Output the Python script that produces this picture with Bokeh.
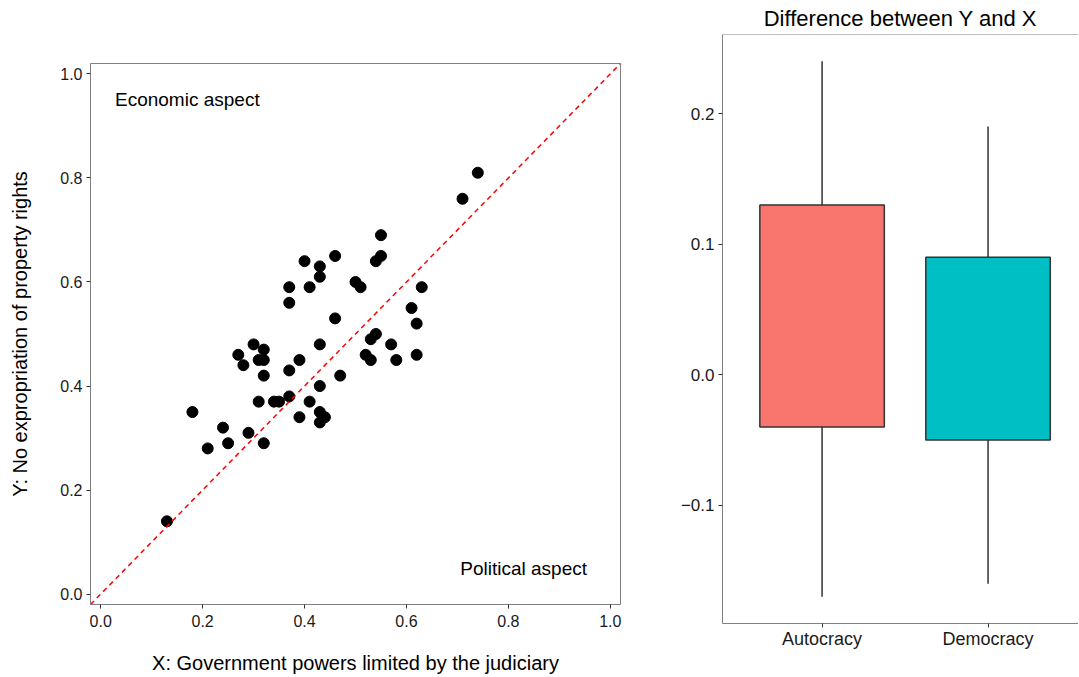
from bokeh.plotting import figure
from bokeh.layouts import row, column
from bokeh.models import Range1d, FixedTicker, PrintfTickFormatter, Slope, Span, ColumnDataSource
from bokeh.core.properties import value
from bokeh.embed import file_html
from bokeh.resources import INLINE

# ---- scatter data (X: judiciary limits, Y: no expropriation) ----
x_judiciary = [0.74, 0.71, 0.55, 0.55, 0.54, 0.46, 0.40, 0.43, 0.43, 0.41,
               0.37, 0.37, 0.50, 0.51, 0.63, 0.61, 0.62, 0.62, 0.46, 0.43,
               0.54, 0.53, 0.57, 0.52, 0.53, 0.58, 0.47, 0.43, 0.39, 0.37,
               0.37, 0.41, 0.43, 0.44, 0.43, 0.39, 0.30, 0.32, 0.31, 0.32,
               0.27, 0.28, 0.32, 0.31, 0.34, 0.35, 0.18, 0.24, 0.25, 0.21,
               0.29, 0.32, 0.13]
y_property = [0.81, 0.76, 0.69, 0.65, 0.64, 0.65, 0.64, 0.63, 0.61, 0.59,
              0.59, 0.56, 0.60, 0.59, 0.59, 0.55, 0.52, 0.46, 0.53, 0.48,
              0.50, 0.49, 0.48, 0.46, 0.45, 0.45, 0.42, 0.40, 0.45, 0.43,
              0.38, 0.37, 0.35, 0.34, 0.33, 0.34, 0.48, 0.47, 0.45, 0.45,
              0.46, 0.44, 0.42, 0.37, 0.37, 0.37, 0.35, 0.32, 0.29, 0.28,
              0.31, 0.29, 0.14]
scatter_ticks = [0.0, 0.2, 0.4, 0.6, 0.8, 1.0]
note_text = ["Economic aspect", "Political aspect"]
note_x = [0.17, 0.83]
note_y = [0.95, 0.05]

# ---- boxplot data (difference Y - X) ----
regimes = ["Autocracy", "Democracy"]
whisker_low = [-0.17, -0.16]
q1 = [-0.04, -0.05]
median = [0.05, 0.02]
q3 = [0.13, 0.09]
whisker_high = [0.24, 0.19]
box_colors = ["#F8766D", "#00BFC4"]
box_ticks = [-0.1, 0.0, 0.1, 0.2]
box_tick_labels = ["\u22120.1", "0.0", "0.1", "0.2"]

FONT = "Liberation Sans"
BORDER = "#808080"
TICK = "#333333"
LABEL = "#1a1a1a"

# ================= scatter =================
p1 = figure(width=650, height=676, output_backend="svg", toolbar_location=None,
            x_range=Range1d(-0.02, 1.02), y_range=Range1d(-0.02, 1.02),
            min_border_left=90, min_border_right=30, min_border_top=63, min_border_bottom=72)
p1.background_fill_color = "white"
p1.border_fill_color = "white"
p1.outline_line_color = BORDER
p1.outline_line_width = 1
p1.xgrid.visible = False
p1.ygrid.visible = False

for ax in (p1.xaxis[0], p1.yaxis[0]):
    ax.ticker = FixedTicker(ticks=scatter_ticks)
    ax.formatter = PrintfTickFormatter(format="%.1f")
    ax.axis_line_color = None
    ax.major_tick_line_color = TICK
    ax.major_tick_out = 4
    ax.major_tick_in = 0
    ax.minor_tick_line_color = None
    ax.major_label_text_font = FONT
    ax.major_label_text_font_size = "16px"
    ax.major_label_text_color = LABEL
    ax.axis_label_text_font = FONT
    ax.axis_label_text_font_size = "20px"
    ax.axis_label_text_font_style = "normal"
    ax.axis_label_text_color = "black"

p1.xaxis.axis_label = "X: Government powers limited by the judiciary"
p1.yaxis.axis_label = "Y: No expropriation of property rights"
p1.xaxis.major_label_standoff = 6
p1.yaxis.major_label_standoff = 4
p1.xaxis.axis_label_standoff = 22
p1.yaxis.axis_label_standoff = 26

p1.add_layout(Slope(gradient=1, y_intercept=0, line_color="red", line_width=1.5,
                    line_dash="5 4"))

src = ColumnDataSource(dict(x=x_judiciary, y=y_property))
p1.scatter("x", "y", source=src, size=11, color="black")

p1.text(x=note_x, y=note_y, text=note_text, text_font=value(FONT),
        text_font_size="19px", text_align="center", text_baseline="middle",
        text_color="black")

# ================= boxplot =================
pos = [i + 1 for i in range(len(regimes))]
p2 = figure(width=428, height=676, output_backend="svg", toolbar_location=None,
            x_range=Range1d(0.4, 2.545), y_range=Range1d(-0.1905, 0.2605),
            min_border_left=72, min_border_right=0, min_border_top=34, min_border_bottom=53,
            title="Difference between Y and X")
p2.background_fill_color = "white"
p2.border_fill_color = "white"
p2.outline_line_color = None
p2.xgrid.visible = False
p2.ygrid.visible = False
p2.title.text_font = FONT
p2.title.text_font_size = "22px"
p2.title.text_font_style = "normal"
p2.title.align = "center"
p2.title.text_color = "black"
p2.title.standoff = 7

p2.yaxis.ticker = FixedTicker(ticks=box_ticks)
p2.yaxis.major_label_overrides = {t: l for t, l in zip(box_ticks, box_tick_labels)}
p2.xaxis.ticker = FixedTicker(ticks=pos)
p2.xaxis.major_label_overrides = {t: l for t, l in zip(pos, regimes)}
for ax in (p2.xaxis[0], p2.yaxis[0]):
    ax.axis_line_color = BORDER
    ax.axis_line_width = 1
    ax.major_tick_line_color = TICK
    ax.major_tick_out = 4
    ax.major_tick_in = 0
    ax.minor_tick_line_color = None
    ax.major_label_text_font = FONT
    ax.major_label_text_color = LABEL
p2.yaxis.major_label_text_font_size = "17px"
p2.xaxis.major_label_text_font_size = "18px"
p2.yaxis.major_label_standoff = 4
p2.xaxis.major_label_standoff = 1
p2.add_layout(Span(location=0.2605, dimension="width", line_color=BORDER, line_width=1))

bsrc = ColumnDataSource(dict(pos=pos, lo=whisker_low, q1=q1, med=median, q3=q3,
                             hi=whisker_high, color=box_colors))
p2.segment(x0="pos", y0="q3", x1="pos", y1="hi", source=bsrc, line_color=TICK, line_width=1.5)
p2.segment(x0="pos", y0="lo", x1="pos", y1="q1", source=bsrc, line_color=TICK, line_width=1.5)
p2.vbar(x="pos", width=0.75, bottom="q1", top="q3", source=bsrc, fill_color="color",
        line_color=TICK, line_width=1.5)
p2.rect(x="pos", y="med", width=0.75, height=0, source=bsrc, line_color=TICK, line_width=3)

layout = row(column(p1), column(p2))
open("out.html", "w").write(file_html(layout, INLINE))
